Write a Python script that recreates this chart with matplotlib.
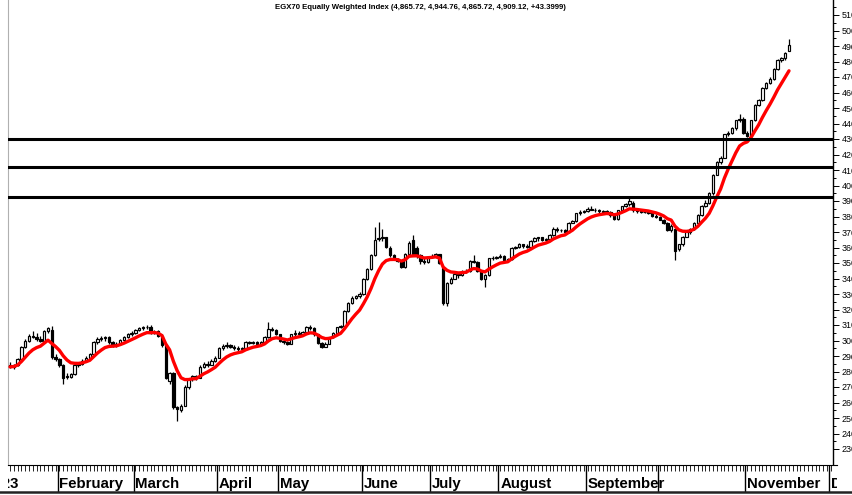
import matplotlib
matplotlib.use("Agg")
import matplotlib.pyplot as plt
from matplotlib.lines import Line2D
import numpy as np
import pandas as pd

plt.rcParams['font.family'] = ['Liberation Sans', 'DejaVu Sans']

title = "EGX70 Equally Weighted Index (4,865.72, 4,944.76, 4,865.72, 4,909.12, +43.3999)"

# daily candles, trading-day index 0..205 (mid Jan 2023 -> mid Nov 2023)
opens = [2845, 2830, 2840, 2880, 2955, 3000, 3030, 3025, 3010, 3000, 3060, 3070, 2895,
         2880, 2840, 2770, 2765, 2785, 2840, 2850, 2870, 2890, 2910, 2990, 3010, 3015, 3020, 2990, 2970, 2975, 3005, 3020, 3040,
         3050, 3065, 3080, 3085, 3090, 3050, 3060, 3030, 2970, 2740, 2790, 2570, 2550, 2580, 2700, 2750, 2770, 2760, 2830, 2850, 2845, 2870,
         2890, 2950, 2965, 2970, 2960, 2950, 2945, 2950, 2990, 2985, 2990, 2980, 2990, 3020, 3075,
         3070, 3040, 3000, 2990, 2980, 3040, 3050, 3045, 3055, 3090, 3080, 3040, 2985, 2960, 2980, 3020, 3050, 3085, 3095, 3190, 3240, 3275,
         3285, 3300, 3400, 3460, 3550, 3655, 3660, 3665, 3600, 3550, 3525, 3515, 3475, 3560, 3650, 3600, 3550, 3510,
         3505, 3540, 3545, 3555, 3470, 3240, 3370, 3400, 3430, 3420, 3445, 3450, 3510, 3505, 3450, 3400, 3420, 3530,
         3535, 3540, 3545, 3520, 3525, 3600, 3605, 3620, 3610, 3605, 3640, 3660, 3665, 3650, 3655, 3680, 3720, 3710, 3715, 3700, 3760, 3770, 3820,
         3830, 3835, 3850, 3845, 3840, 3835, 3830, 3830, 3810, 3785, 3840, 3865, 3880, 3890, 3840, 3835, 3830, 3828, 3820, 3805,
         3800, 3780, 3760, 3715, 3720, 3590, 3620, 3670, 3700, 3720, 3760, 3810, 3870, 3890, 3950, 4070, 4150, 4180, 4330, 4340, 4370, 4420,
         4430, 4340, 4320, 4420, 4520, 4550, 4630, 4660, 4690, 4750, 4810, 4820, 4866]
highs = [2860, 2850, 2890, 2965, 3010, 3040, 3060, 3050, 3030, 3070, 3090, 3095, 2910,
         2890, 2850, 2790, 2790, 2850, 2860, 2880, 2900, 2920, 3000, 3020, 3030, 3030, 3030, 3000, 2990, 3010, 3030, 3050, 3060,
         3075, 3090, 3095, 3100, 3100, 3070, 3070, 3040, 2980, 2800, 2800, 2580, 2590, 2710, 2760, 2780, 2780, 2840, 2860, 2870, 2880, 2900,
         2960, 2975, 2990, 2980, 2970, 2965, 2960, 2995, 3000, 3000, 3000, 2995, 3030, 3120, 3090,
         3075, 3045, 3010, 3000, 3045, 3065, 3060, 3060, 3095, 3100, 3085, 3045, 2990, 2990, 3025, 3055, 3090, 3100, 3200, 3250, 3285, 3295,
         3310, 3405, 3465, 3555, 3730, 3765, 3720, 3670, 3610, 3555, 3535, 3520, 3565, 3640, 3680, 3610, 3555, 3530,
         3545, 3555, 3565, 3560, 3475, 3380, 3410, 3440, 3440, 3455, 3460, 3520, 3550, 3515, 3455, 3430, 3535, 3545,
         3545, 3555, 3550, 3530, 3605, 3610, 3630, 3625, 3620, 3650, 3670, 3670, 3670, 3660, 3690, 3730, 3730, 3720, 3720, 3765, 3780, 3825, 3840,
         3845, 3860, 3865, 3855, 3850, 3845, 3845, 3835, 3815, 3845, 3870, 3890, 3925, 3900, 3850, 3845, 3840, 3835, 3830, 3815,
         3805, 3785, 3765, 3750, 3725, 3625, 3675, 3705, 3725, 3765, 3815, 3875, 3905, 3955, 4075, 4155, 4190, 4335, 4350, 4380, 4425, 4460,
         4440, 4350, 4425, 4525, 4560, 4635, 4670, 4700, 4755, 4815, 4830, 4860, 4945]
lows = [2820, 2815, 2835, 2875, 2950, 2990, 3015, 3000, 2990, 2995, 3050, 2880, 2870,
        2830, 2720, 2750, 2760, 2780, 2830, 2840, 2860, 2880, 2905, 2980, 3000, 2995, 2980, 2960, 2955, 2970, 2995, 3015, 3030,
        3045, 3060, 3070, 3075, 3040, 3040, 3020, 2960, 2750, 2720, 2560, 2480, 2540, 2575, 2690, 2740, 2745, 2755, 2820, 2830, 2840, 2860,
        2885, 2940, 2950, 2950, 2940, 2935, 2935, 2945, 2975, 2975, 2970, 2970, 2985, 3015, 3060,
        3035, 2990, 2980, 2970, 2975, 3030, 3035, 3040, 3050, 3070, 3030, 2980, 2950, 2955, 2975, 3015, 3045, 3080, 3090, 3185, 3235, 3265,
        3275, 3295, 3390, 3455, 3545, 3640, 3645, 3600, 3540, 3520, 3505, 3465, 3470, 3550, 3545, 3535, 3495, 3495,
        3500, 3530, 3540, 3495, 3230, 3220, 3365, 3395, 3405, 3415, 3435, 3445, 3500, 3440, 3390, 3345, 3415, 3520,
        3525, 3530, 3515, 3510, 3520, 3590, 3600, 3600, 3595, 3600, 3635, 3645, 3640, 3640, 3650, 3675, 3700, 3700, 3695, 3695, 3755, 3765, 3810,
        3825, 3830, 3840, 3830, 3825, 3820, 3820, 3800, 3775, 3780, 3835, 3860, 3870, 3830, 3825, 3825, 3820, 3815, 3800, 3790,
        3775, 3750, 3705, 3700, 3520, 3580, 3610, 3665, 3690, 3715, 3755, 3805, 3860, 3880, 3940, 4065, 4140, 4175, 4320, 4335, 4360, 4410,
        4330, 4310, 4310, 4415, 4510, 4545, 4620, 4655, 4680, 4745, 4800, 4810, 4866]
closes = [2830, 2840, 2880, 2955, 3000, 3030, 3025, 3010, 3000, 3060, 3080, 2895, 2880,
          2840, 2760, 2765, 2785, 2840, 2850, 2870, 2890, 2910, 2990, 3010, 3015, 3020, 2990, 2970, 2975, 3005, 3020, 3040, 3050,
          3065, 3080, 3085, 3090, 3050, 3055, 3030, 2970, 2760, 2790, 2570, 2560, 2580, 2700, 2750, 2770, 2760, 2830, 2850, 2845, 2870, 2890,
          2950, 2965, 2970, 2960, 2950, 2945, 2950, 2990, 2985, 2990, 2980, 2990, 3020, 3075, 3070,
          3040, 3000, 2990, 2980, 3040, 3050, 3045, 3055, 3090, 3080, 3040, 2985, 2960, 2980, 3020, 3050, 3085, 3095, 3190, 3240, 3275, 3285,
          3300, 3400, 3460, 3550, 3650, 3660, 3665, 3605, 3550, 3525, 3515, 3475, 3560, 3630, 3555, 3550, 3510, 3505,
          3540, 3545, 3555, 3500, 3240, 3370, 3400, 3430, 3420, 3445, 3450, 3510, 3505, 3450, 3395, 3420, 3530, 3535,
          3540, 3545, 3520, 3525, 3600, 3605, 3620, 3610, 3605, 3640, 3660, 3665, 3650, 3655, 3680, 3720, 3710, 3715, 3700, 3760, 3770, 3820, 3830,
          3835, 3850, 3845, 3840, 3835, 3830, 3835, 3810, 3785, 3840, 3865, 3880, 3900, 3840, 3835, 3830, 3828, 3820, 3805, 3800,
          3780, 3760, 3715, 3740, 3580, 3620, 3670, 3700, 3720, 3760, 3810, 3870, 3890, 3950, 4070, 4150, 4180, 4330, 4340, 4370, 4420, 4430,
          4340, 4320, 4420, 4520, 4550, 4630, 4660, 4690, 4750, 4810, 4820, 4855, 4909]

levels = [4300, 4120, 3925]

month_names = ["February", "March", "April", "May", "June", "July", "August",
               "September", "October", "November", "December"]
month_starts = [13, 33, 55, 71, 93, 111, 129, 152, 171, 194, 216]
show_label = [True, True, True, True, True, True, True, True, False, True, True]

W, H = 852, 495
fig = plt.figure(figsize=(W / 100, H / 100), dpi=100)

px = 3.8      # pixels per trading day
x0 = 10       # pixel of first candle
def idx(p):
    return (p - x0) / px

# price panel
ax = fig.add_axes([8 / W, 30 / H, (833 - 8) / W, 465 / H])
n = len(closes)
x = np.arange(n)
o = np.array(opens); c = np.array(closes)
ax.vlines(x, lows, highs, color='black', lw=0.9, zorder=2)
up = c >= o
ax.bar(x[up], (c - o)[up], bottom=o[up], width=0.65, facecolor='white',
       edgecolor='black', linewidth=0.85, zorder=3)
ax.bar(x[~up], (o - c)[~up], bottom=c[~up], width=0.65, facecolor='black',
       edgecolor='black', linewidth=0.85, zorder=3)

ema = pd.Series(closes).ewm(span=9, adjust=False).mean()
ax.plot(x, ema, color='#ff0000', lw=2.4, zorder=4, solid_capstyle='round')

for lv in levels:
    ax.axhline(lv, color='black', lw=2.2, zorder=5)

ax.set_xlim(idx(8), idx(833))
ax.set_ylim(5100 - 450 * 100 / 15.5, 5100 + 15 * 100 / 15.5)
ax.set_xticks([])
ax.yaxis.tick_right()
ax.set_yticks(range(2300, 5200, 100))
ax.set_yticklabels([str(v) for v in range(2300, 5200, 100)], fontsize=6.4)
ax.set_yticks(range(2350, 5200, 100), minor=True)
ax.tick_params(axis='y', which='major', direction='out', length=4, width=0.7, pad=2)
ax.tick_params(axis='y', which='minor', direction='out', length=2, width=0.7)
ax.spines['top'].set_visible(False)
ax.spines['bottom'].set_visible(False)
ax.spines['left'].set_color('#b0b0b0')
ax.spines['right'].set_linewidth(1.0)

fig.text(420 / W, 1 - 7.5 / H, title, ha='center', va='center', fontsize=5.6,
         fontweight='bold')

# date strip
ax2 = fig.add_axes([8 / W, 3 / H, (837 - 8) / W, 27 / H])
ax2.set_xlim(idx(8), idx(837))
ax2.set_ylim(0, 1)
ax2.set_xticks([]); ax2.set_yticks([])
for s in ['left', 'right', 'bottom']:
    ax2.spines[s].set_visible(False)
ax2.spines['top'].set_linewidth(0.8)
ax2.vlines(np.arange(0, 217), 1 - 6 / 27, 1, color='black', lw=0.6)
ax2.vlines(np.array(month_starts) - 0.5, 0, 1, color='black', lw=1.0)
ax2.text(idx(19), 0.3, "2023", ha='right', va='center', fontsize=10.8,
         fontweight='bold', clip_on=True)
for name, st, sh in zip(month_names, month_starts, show_label):
    if sh:
        ax2.text(st - 0.5 + 0.5, 0.3, name, ha='left', va='center', fontsize=10.8,
                 fontweight='bold', clip_on=True)

# bottom border across the whole picture
fig.add_artist(Line2D([0, 1], [3 / H, 3 / H], color='#222222', lw=1.8,
                      transform=fig.transFigure))

fig.savefig("out.png", dpi=100)
